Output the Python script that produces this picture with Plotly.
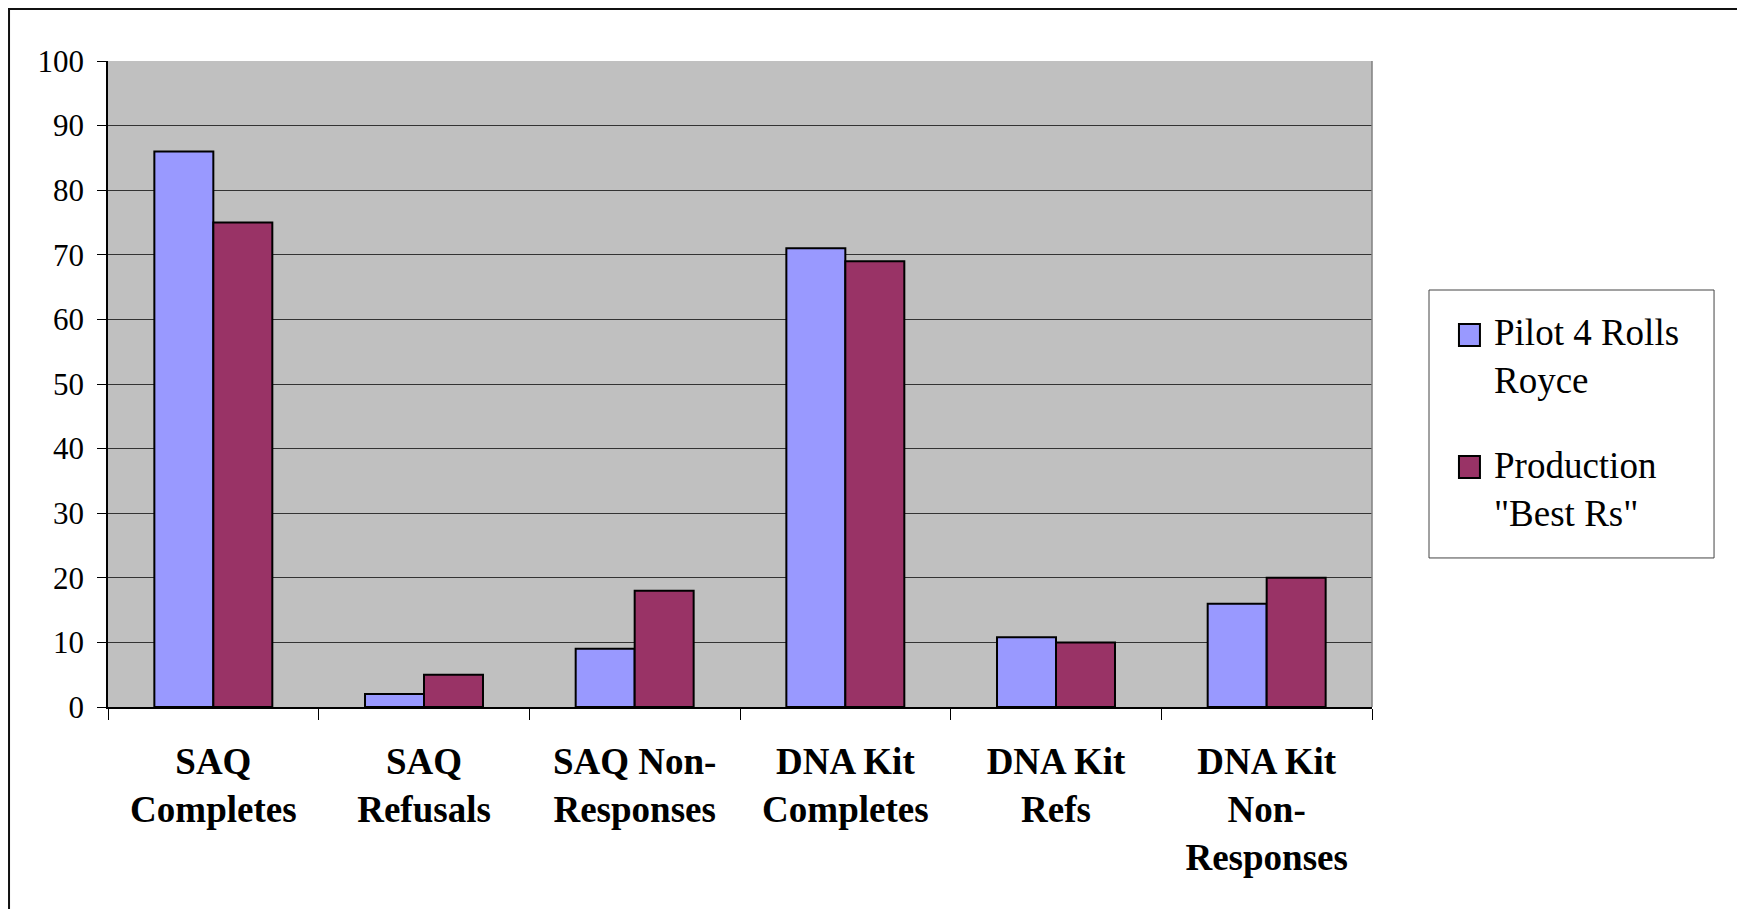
import plotly.graph_objects as go

categories = [
    "SAQ<br>Completes",
    "SAQ<br>Refusals",
    "SAQ Non-<br>Responses",
    "DNA Kit<br>Completes",
    "DNA Kit<br>Refs",
    "DNA Kit<br>Non-<br>Responses",
]
series_names = ["Pilot 4 Rolls<br>Royce", "Production<br>\"Best Rs\""]
pilot_values = [86, 2, 9, 71, 10.8, 16]
production_values = [75, 5, 18, 69, 10, 20]
y_ticks = [0, 10, 20, 30, 40, 50, 60, 70, 80, 90, 100]

colors = ["#9999FF", "#993366"]
FONT = "Liberation Serif"

fig = go.Figure()
for i, (name, vals) in enumerate(zip(series_names, [pilot_values, production_values])):
    fig.add_trace(go.Bar(
        x=categories, y=vals, name=name,
        marker=dict(color=colors[i], line=dict(color="#000000", width=2)),
        showlegend=False,
    ))

# legend drawn as a box with swatches and text (paper coordinates)
legend_sym_y = [(0.5588, 0.5929), (0.3545, 0.3885)]
legend_text_y = [0.5423, 0.3364]
shapes = [
    # outer chart border
    dict(type="rect", xref="paper", yref="paper",
         x0=-0.0783, x1=1.2927, y0=-0.6, y1=1.0805,
         line=dict(color="#111111", width=2), fillcolor="rgba(0,0,0,0)", layer="below"),
    # plot area right edge
    dict(type="line", xref="x domain", yref="y domain",
         x0=1, x1=1, y0=0, y1=1, line=dict(color="#808080", width=1.5)),
    # legend box
    dict(type="rect", xref="paper", yref="paper",
         x0=1.0451, x1=1.2706, y0=0.2307, y1=0.6455,
         line=dict(color="#444444", width=1), fillcolor="white", layer="below"),
]
annotations = []
for i, name in enumerate(series_names):
    y0, y1 = legend_sym_y[i]
    shapes.append(dict(type="rect", xref="paper", yref="paper",
                       x0=1.0688, x1=1.0854, y0=y0, y1=y1,
                       line=dict(color="#000000", width=2), fillcolor=colors[i]))
    annotations.append(dict(xref="paper", yref="paper", x=1.0949, y=legend_text_y[i],
                            xanchor="left", yanchor="middle", align="left",
                            text=name, showarrow=False,
                            font=dict(family=FONT, size=37, color="black")))

fig.update_layout(
    width=1737, height=901,
    margin=dict(l=100, r=373, t=53, b=202, autoexpand=False),
    paper_bgcolor="white",
    plot_bgcolor="#C0C0C0",
    barmode="group",
    bargap=0.44,
    bargroupgap=0,
    font=dict(family=FONT, color="black"),
    showlegend=False,
    xaxis=dict(
        type="category",
        tickson="boundaries",
        ticks="outside", ticklen=11, tickwidth=1, tickcolor="#000000",
        showline=True, linecolor="#000000", linewidth=1.5,
        showgrid=False,
        tickfont=dict(family=FONT, size=37, color="black", weight="bold"),
        ticklabelstandoff=21,
    ),
    yaxis=dict(
        range=[0, 100],
        tickvals=y_ticks,
        ticktext=[str(v) for v in y_ticks],
        ticks="outside", ticklen=9, tickwidth=1, tickcolor="#000000",
        showline=True, linecolor="#000000", linewidth=1.5,
        showgrid=True, gridcolor="#333333", gridwidth=1,
        zeroline=False,
        tickfont=dict(family=FONT, size=31, color="black"),
        ticklabelstandoff=7,
    ),
    shapes=shapes,
    annotations=annotations,
)

fig.write_html("out.html")
